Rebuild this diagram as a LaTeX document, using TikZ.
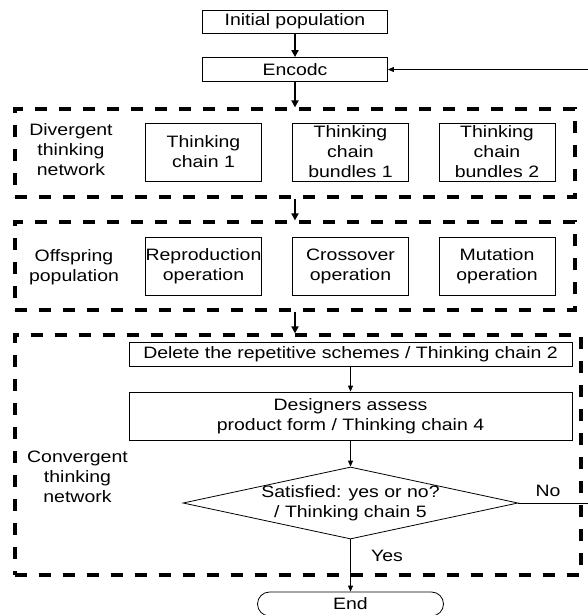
\documentclass[tikz,border=0pt]{standalone}
\usepackage{fontspec}
\setmainfont{Liberation Sans}[FakeStretch=1.18]
\usetikzlibrary{arrows.meta,shapes.geometric,shapes.misc}
\begin{document}
\begin{tikzpicture}[x=1pt,y=-1pt,
  txt/.style={font=\fontsize{16.5}{20}\selectfont, align=center, inner sep=0pt},
  sbox/.style={draw, line width=0.8pt, txt},
  dbox/.style={draw, line width=3.2pt, dash pattern=on 12pt off 12pt, inner sep=0pt},
  tarr/.style={line width=2.5pt, -{Triangle[length=7pt,width=7pt]}},
  narr/.style={line width=1pt, -{Triangle[length=6pt,width=5pt]}}]
\useasboundingbox (0,0) rectangle (588,615);
% top boxes
\node[sbox, minimum width=185pt, minimum height=23pt] (init) at (295,21.5) {Initial population};
\node[sbox, minimum width=185pt, minimum height=24pt] (enc) at (295,69.5) {Encodc};
% dashed groups
\node[dbox, minimum width=560pt, minimum height=88pt] (g1) at (295,153) {};
\node[dbox, minimum width=560pt, minimum height=88pt] (g2) at (295,266) {};
\node[dbox, minimum width=566pt, minimum height=240pt] (g3) at (298,455) {};
% group 1
\node[txt] (l1) at (71,150) {Divergent\\thinking\\network};
\node[sbox, minimum width=116pt, minimum height=58pt] (a1) at (203.5,152) {Thinking\\chain 1};
\node[sbox, minimum width=116pt, minimum height=58pt] (a2) at (350.5,152) {Thinking\\chain\\bundles 1};
\node[sbox, minimum width=116pt, minimum height=58pt] (a3) at (497,152) {Thinking\\chain\\bundles 2};
% group 2
\node[txt] (l2) at (74,267) {Offspring\\population};
\node[sbox, minimum width=116pt, minimum height=58pt] (b1) at (203.5,266) {Reproduction\\operation};
\node[sbox, minimum width=116pt, minimum height=58pt] (b2) at (350.5,266) {Crossover\\operation};
\node[sbox, minimum width=116pt, minimum height=58pt] (b3) at (497,266) {Mutation\\operation};
% group 3
\node[txt] (l3) at (77.5,477) {Convergent\\thinking\\network};
\node[sbox, minimum width=443pt, minimum height=24pt] (del) at (350.5,354) {Delete the repetitive schemes / Thinking chain 2};
\node[sbox, minimum width=443pt, minimum height=48pt] (des) at (350.5,416) {Designers assess\\product form / Thinking chain 4};
\node[draw, diamond, line width=0.8pt, inner sep=0pt, aspect=4.65, minimum width=335pt, minimum height=72pt] (dec) at (350.5,503) {};
\node[txt] (dect) at (350.5,503) {Satisfied: yes or no?\\/ Thinking chain 5};
\node[draw, rounded rectangle, line width=0.8pt, txt, minimum width=186pt, minimum height=24pt] (end) at (350.5,604) {End};
\node[txt] (yes) at (387,556) {Yes};
\node[txt] (no) at (548,491) {No};
\coordinate (fbr) at (590,503);
\coordinate (fbt) at (590,69.5);
% connectors
\draw[tarr] (init) -- (enc);
\draw[tarr] (enc) -- (g1.north);
\draw[tarr] (g1.south) -- (g2.north);
\draw[tarr] (g2.south) -- (g2.south |- g3.north);
\draw[narr] (del) -- (des);
\draw[narr] (des) -- (dec);
\draw[narr] (dec) -- (end);
\draw[narr] (dec.east) -- (fbr) -- (fbt) -- (enc.east);
\end{tikzpicture}
\end{document}
